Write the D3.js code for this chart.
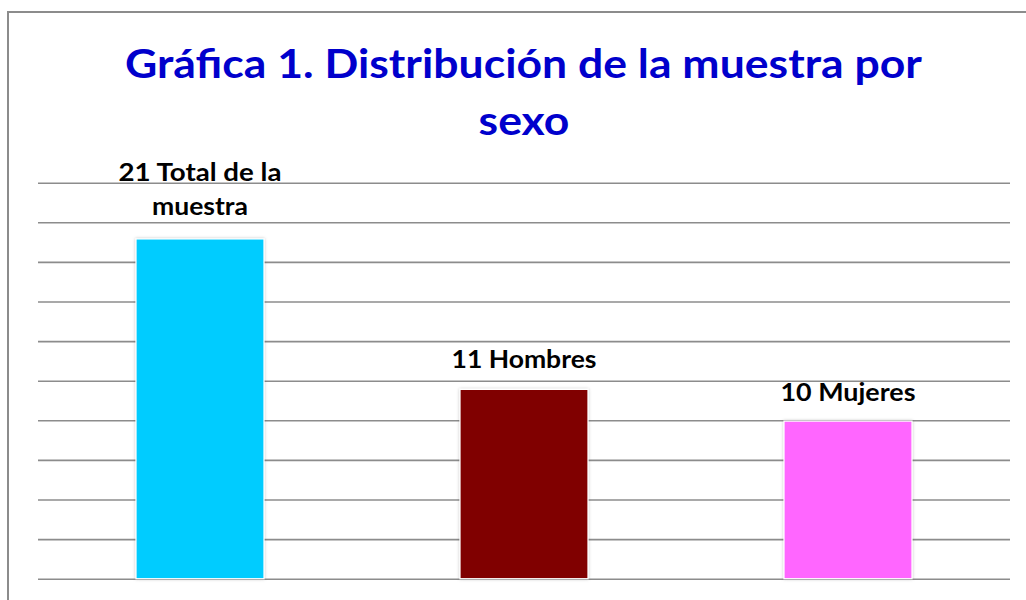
<!DOCTYPE html>
<html>
<head>
<meta charset="utf-8">
<script src="https://cdn.jsdelivr.net/npm/d3@7"></script>
<style>
  html, body { margin: 0; padding: 0; background: #fff; }
  svg { display: block; }
</style>
</head>
<body>
<div id="chart"></div>
<script>
// ---- data ----
const categories = ["Total de la muestra", "Hombres", "Mujeres"];
const values = [21.45, 11.95, 9.95];          // bar heights (axis units)
const labelLines = [["21 Total de la", "muestra"], ["11 Hombres"], ["10 Mujeres"]];
const colors = ["#00CCFF", "#800000", "#FF66FF"];
const gridTicks = [0, 2.5, 5, 7.5, 10, 12.5, 15, 17.5, 20, 22.5, 25];
const titleLines = ["Gráfica 1. Distribución de la muestra por", "sexo"];

// ---- layout ----
const W = 1026, H = 600;
const plot = { left: 38, right: 1010, top: 182.7, bottom: 578.7 };
const FONT = "Lato, 'Liberation Sans', Arial, sans-serif";

const svg = d3.select("#chart").append("svg").attr("width", W).attr("height", H);

const defs = svg.append("defs");
const f = defs.append("filter").attr("id", "shadow").attr("x", "-10%").attr("y", "-10%").attr("width", "120%").attr("height", "120%");
f.append("feDropShadow").attr("dx", 0).attr("dy", 0).attr("stdDeviation", 1.5).attr("flood-color", "#000").attr("flood-opacity", 0.25);

// outer border (top and left visible)
svg.append("path")
  .attr("d", `M8,${H} L8,12 L${W},12`)
  .attr("fill", "none").attr("stroke", "#8c8c8c").attr("stroke-width", 2);

const x = d3.scaleBand().domain(categories).range([plot.left, plot.right])
  .paddingInner(0.605).paddingOuter(0.3025);
const y = d3.scaleLinear().domain([0, 25]).range([plot.bottom, plot.top]);

// gridlines via axis
const yAxis = d3.axisLeft(y).tickValues(gridTicks).tickSize(-(plot.right - plot.left)).tickFormat("");
const g = svg.append("g").attr("transform", `translate(${plot.left},0)`).call(yAxis);
g.select(".domain").remove();
g.selectAll(".tick line").attr("stroke", "#8c8c8c").attr("stroke-width", 1.6);

// bars
svg.append("g").selectAll("rect").data(values).join("rect")
  .attr("x", (d, i) => x(categories[i]))
  .attr("y", d => y(d))
  .attr("width", x.bandwidth())
  .attr("height", d => y(0) - y(d))
  .attr("fill", (d, i) => colors[i])
  .attr("stroke", "#ffffff").attr("stroke-width", 1.2)
  .attr("filter", "url(#shadow)");

// helper: fit text width horizontally
function fitWidth(sel, target) {
  sel.each(function() {
    const t = d3.select(this);
    const w = this.getComputedTextLength();
    const cx = +t.attr("x");
    const sx = target / w;
    t.attr("transform", `translate(${cx},0) scale(${sx},1) translate(${-cx},0)`);
  });
}

// data labels
const labelWidths = [[163, 96], [145], [135]];
const labelBaselines = [[180.7, 215], [368.3], [401.5]];
labelLines.forEach((lines, i) => {
  const cx = x(categories[i]) + x.bandwidth() / 2;
  lines.forEach((ln, j) => {
    const t = svg.append("text")
      .attr("x", cx).attr("y", labelBaselines[i][j])
      .attr("text-anchor", "middle")
      .attr("font-family", FONT).attr("font-weight", "bold")
      .attr("font-size", 24).attr("fill", "#000")
      .text(ln);
    fitWidth(t, labelWidths[i][j]);
  });
});

// title
const t1 = svg.append("text").attr("x", 523.5).attr("y", 77.7)
  .attr("text-anchor", "middle").attr("font-family", FONT).attr("font-weight", "bold")
  .attr("font-size", 40).attr("fill", "#0000CC").text(titleLines[0]);
const w1 = t1.node().getComputedTextLength();
const sx = 797 / w1;
t1.attr("transform", `translate(523.5,0) scale(${sx},1) translate(-523.5,0)`);
svg.append("text").attr("x", 524).attr("y", 135)
  .attr("text-anchor", "middle").attr("font-family", FONT).attr("font-weight", "bold")
  .attr("font-size", 40).attr("fill", "#0000CC").text(titleLines[1])
  .attr("transform", `translate(524,0) scale(${sx},1) translate(-524,0)`);
</script>
</body>
</html>
